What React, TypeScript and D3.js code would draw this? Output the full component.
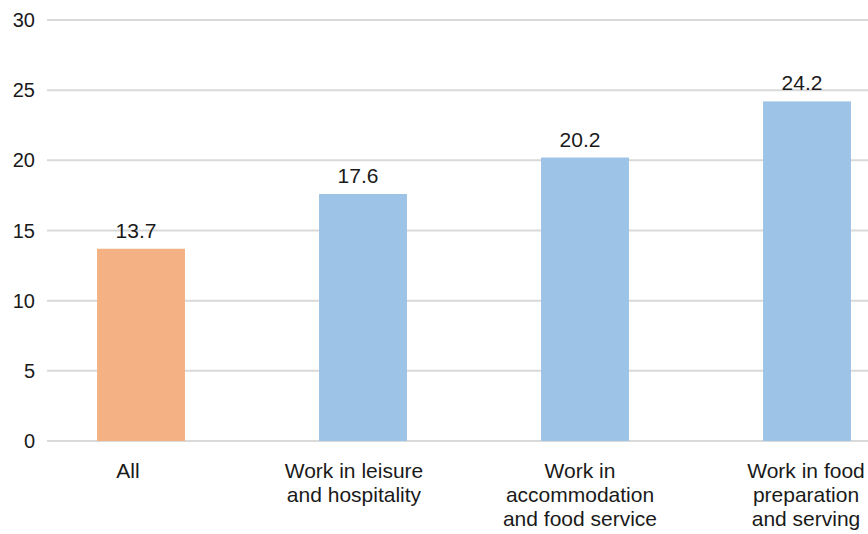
import React, { useRef, useEffect } from "react";
import * as d3 from "d3";

const categories = [
  ["All"],
  ["Work in leisure", "and hospitality"],
  ["Work in", "accommodation", "and food service"],
  ["Work in food", "preparation", "and serving"],
];
const values = [13.7, 17.6, 20.2, 24.2];
const barColors = ["#f4b183", "#9dc3e6", "#9dc3e6", "#9dc3e6"];
const yTicks = [0, 5, 10, 15, 20, 25, 30];

const W = 868;
const H = 534;

const App = () => {
  const ref = useRef<SVGSVGElement | null>(null);

  useEffect(() => {
    const svg = d3.select(ref.current);
    svg.selectAll("*").remove();

    const font = "'Liberation Sans', Arial, Helvetica, sans-serif";

    const y = d3.scaleLinear().domain([0, 30]).range([441, 20]);
    const x = d3
      .scaleBand()
      .domain(values.map((_, i) => String(i)))
      .range([30, 918])
      .paddingInner(0.604)
      .paddingOuter(0.302);
    // category labels sit on a slightly different spacing than the bars
    const xLabel = d3
      .scalePoint()
      .domain(values.map((_, i) => String(i)))
      .range([128, 806]);

    // gridlines
    svg
      .append("g")
      .selectAll("line")
      .data(yTicks)
      .enter()
      .append("line")
      .attr("x1", 47)
      .attr("x2", W)
      .attr("y1", (d) => y(d))
      .attr("y2", (d) => y(d))
      .attr("stroke", "#d9d9d9")
      .attr("stroke-width", 2);

    // y labels
    svg
      .append("g")
      .selectAll("text")
      .data(yTicks)
      .enter()
      .append("text")
      .attr("x", 35)
      .attr("y", (d) => y(d))
      .attr("dy", "0.35em")
      .attr("text-anchor", "end")
      .attr("font-family", font)
      .attr("font-size", 20)
      .attr("fill", "#1a1a1a")
      .text((d) => d);

    // bars
    svg
      .append("g")
      .selectAll("rect")
      .data(values)
      .enter()
      .append("rect")
      .attr("x", (_, i) => x(String(i))!)
      .attr("width", x.bandwidth())
      .attr("y", (d) => y(d))
      .attr("height", (d) => y(0) - y(d))
      .attr("fill", (_, i) => barColors[i]);

    // value labels
    svg
      .append("g")
      .selectAll("text")
      .data(values)
      .enter()
      .append("text")
      .attr("x", (_, i) => x(String(i))! + x.bandwidth() / 2 - 5)
      .attr("y", (d) => y(d) - 11)
      .attr("text-anchor", "middle")
      .attr("font-family", font)
      .attr("font-size", 21)
      .attr("fill", "#1a1a1a")
      .text((d) => d.toFixed(1));

    // category labels
    const cat = svg
      .append("g")
      .selectAll("text")
      .data(categories)
      .enter()
      .append("text")
      .attr("x", (_, i) => xLabel(String(i))!)
      .attr("y", 478)
      .attr("text-anchor", "middle")
      .attr("font-family", font)
      .attr("font-size", 21)
      .attr("fill", "#1a1a1a");

    cat
      .selectAll("tspan")
      .data((d) => d)
      .enter()
      .append("tspan")
      .attr("x", function () {
        return (this as any).parentNode.getAttribute("x");
      })
      .attr("dy", (_, j) => (j === 0 ? 0 : 24))
      .text((d) => d);
  }, []);

  return (
    <svg
      ref={ref}
      width={W}
      height={H}
      style={{ position: "absolute", left: 0, top: 0, background: "#fff" }}
    />
  );
};

export default App;
